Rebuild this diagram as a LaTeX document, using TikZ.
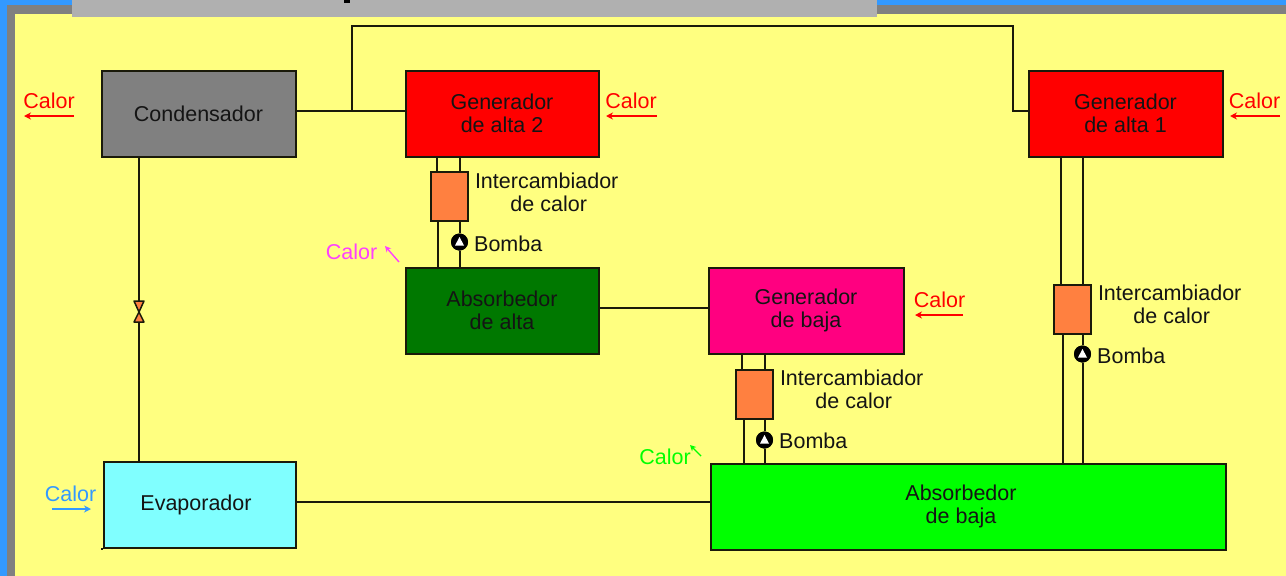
\documentclass[tikz,border=0pt]{standalone}
\usepackage{fontspec}
\setmainfont{Liberation Sans}
\usetikzlibrary{arrows.meta}
\definecolor{bgy}{HTML}{FFFF80}
\definecolor{frameblue}{HTML}{3399FF}
\definecolor{framegrey}{HTML}{808080}
\definecolor{barg}{HTML}{B0B0B0}
\definecolor{hxo}{HTML}{FF8040}
\definecolor{linek}{HTML}{1A1A0A}
\definecolor{pinkg}{HTML}{FF0080}
\definecolor{darkg}{HTML}{007800}
\definecolor{cyanb}{HTML}{80FFFF}
\definecolor{magc}{HTML}{FF40FF}
\tikzset{
  tx/.style={font=\fontsize{21.5}{23}\selectfont,inner sep=0pt,align=center,text=black!92},
  plant/.style={draw=linek,line width=2pt,inner sep=0pt,minimum height=86pt,tx},
  hxbox/.style={draw=linek,line width=2pt,fill=hxo,inner sep=0pt,minimum width=37pt,minimum height=49pt},
  pumpc/.style={circle,fill=black,inner sep=0pt,minimum size=17pt},
  pipe/.style={draw=linek,line width=2pt},
  heat/.style={line width=1.6pt,-{Stealth[length=7pt,width=7pt]}},
  heatlab/.style={font=\fontsize{21.5}{23}\selectfont,inner sep=0pt},
}
\begin{document}
\begin{tikzpicture}[x=1pt,y=-1pt]
\useasboundingbox (0,0) rectangle (1286,576);
% frame and page
\fill[frameblue] (0,0) rectangle (1286,576);
\fill[framegrey] (7,5) rectangle (1286,576);
\fill[bgy] (14.5,14) rectangle (1286,576);
\fill[barg] (72,0) rectangle (877,16.5);
\fill[black] (344,0) rectangle (350,3);

% plant boxes
\node[plant,minimum width=194pt,fill=framegrey] (cond) at (198.5,113.5) {Condensador};
\node[plant,minimum width=193pt,fill=red] (gen2) at (502,113.5) {Generador\\de alta 2};
\node[plant,minimum width=194pt,fill=red] (gen1) at (1125.5,113.5) {Generador\\de alta 1};
\node[plant,minimum width=193pt,fill=darkg] (absa) at (502,310.5) {Absorbedor\\de alta};
\node[plant,minimum width=195pt,fill=pinkg] (genb) at (806,310.5) {Generador\\de baja};
\node[plant,minimum width=192pt,fill=cyanb] (evap) at (199.5,504.5) {\hspace*{-7pt}Evaporador};
\node[plant,minimum width=515pt,fill=green] (absb) at (968,506.5) {\hspace*{-14pt}Absorbedor\\\hspace*{-14pt}de baja};

% heat exchangers
\node[hxbox] (hx2) at (449.5,196.5) {};
\node[hxbox] (hx1) at (1072.5,309.5) {};
\node[hxbox] (hxb) at (754,394.5) {};

% pumps
\node[pumpc] (p2) at (459.5,242) {};
\node[pumpc] (p1) at (1082.5,354) {};
\node[pumpc] (pb) at (764.5,440) {};
\foreach \p in {p2,p1,pb}{
  \fill[white] ([shift={(0pt,5pt)}]\p.center) -- ([shift={(-4.5pt,-3.5pt)}]\p.center) -- ([shift={(4.5pt,-3.5pt)}]\p.center) -- cycle;
}

% valve
\coordinate (valve) at (139,312);
\coordinate (jt) at (352,111);
\coordinate (tr) at (1013,26);
\coordinate (g1in) at ([yshift=2.5pt]gen1.west);

% pipes
\draw[pipe] ([yshift=2.5pt]cond.east) -- ([yshift=2.5pt]gen2.west);
\draw[pipe] (jt) |- (tr) -- (tr |- g1in) -- (g1in);
\draw[pipe] (cond.south -| valve) -- (valve) -- (valve |- evap.north);
\draw[pipe] (absa.east |- genb.west) ++(0,-2.5) -- ([yshift=2.5pt]genb.west);
\draw[pipe] ([yshift=2.5pt]evap.east) -- (absb.west |- {0,502});

\draw[pipe] ([xshift=-65pt]gen2.south) -- ([xshift=-12.5pt]hx2.north);
\draw[pipe] (gen2.south -| p2) -- (hx2.north -| p2);
\draw[pipe] ([xshift=-11.5pt]hx2.south) -- ([xshift=-64pt]absa.north);
\draw[pipe] (hx2.south -| p2) -- (p2) -- (p2 |- absa.north);

\draw[pipe] ([xshift=-64.5pt]gen1.south) -- ([xshift=-11.5pt]hx1.north);
\draw[pipe] (gen1.south -| p1) -- (hx1.north -| p1);
\draw[pipe] ([xshift=-9.5pt]hx1.south) -- ([xshift=95pt]absb.north);
\draw[pipe] (hx1.south -| p1) -- (p1) -- (p1 |- absb.north);

\draw[pipe] ([xshift=-64pt]genb.south) -- ([xshift=-12pt]hxb.north);
\draw[pipe] (genb.south -| pb) -- (hxb.north -| pb);
\draw[pipe] ([xshift=-10pt]hxb.south) -- ([xshift=-224pt]absb.north);
\draw[pipe] (hxb.south -| pb) -- (pb) -- (pb |- absb.north);

% redraw pumps over pipes, valve triangles
\foreach \p in {p2,p1,pb}{
  \fill[black] (\p) circle (8.5pt);
  \fill[white] ([shift={(0pt,5pt)}]\p.center) -- ([shift={(-4.5pt,-3.5pt)}]\p.center) -- ([shift={(4.5pt,-3.5pt)}]\p.center) -- cycle;
}
\draw[linek,fill=hxo,line width=1.5pt,line join=round] (valve) -- ([shift={(-5pt,11pt)}]valve) -- ([shift={(5pt,11pt)}]valve) -- cycle;
\draw[linek,fill=hxo,line width=1.5pt,line join=round] (valve) -- ([shift={(-5pt,-10pt)}]valve) -- ([shift={(5pt,-10pt)}]valve) -- cycle;
% notch at evaporator corner
\draw[pipe] (evap.south west) -- ([xshift=-2pt]evap.south west);

% labels
\node[tx,align=center] (ix2) at (546.7,192) {Intercambiador\\\hspace*{4pt}de calor};
\node[tx,align=center] (ix1) at (1169.7,304) {Intercambiador\\\hspace*{4pt}de calor};
\node[tx,align=center] (ixb) at (851.7,389) {Intercambiador\\\hspace*{4pt}de calor};
\node[tx,anchor=west] (b2) at (474,244) {Bomba};
\node[tx,anchor=west] (b1) at (1097,356) {Bomba};
\node[tx,anchor=west] (bb) at (779,441) {Bomba};

% heat labels and arrows
\node[heatlab,text=red] (c1) at (49,101) {Calor};
\coordinate (c1a) at (74,116); \coordinate (c1b) at (24,116);
\draw[heat,red] (c1a) -- (c1b);
\node[heatlab,text=red] (c2) at (631,101) {Calor};
\coordinate (c2a) at (657,116); \coordinate (c2b) at (606,116);
\draw[heat,red] (c2a) -- (c2b);
\node[heatlab,text=red] (c3) at (1254.5,101) {Calor};
\coordinate (c3a) at (1280,116); \coordinate (c3b) at (1230,116);
\draw[heat,red] (c3a) -- (c3b);
\node[heatlab,text=red] (c4) at (939.5,300) {Calor};
\coordinate (c4a) at (963,315); \coordinate (c4b) at (915,315);
\draw[heat,red] (c4a) -- (c4b);
\node[heatlab,text=magc] (c5) at (351.5,252) {Calor};
\coordinate (c5a) at (399,262); \coordinate (c5b) at (385,246);
\draw[line width=1.4pt,magc,-{Stealth[length=6pt,width=6pt]}] (c5a) -- (c5b);
\node[heatlab,text=green] (c6) at (665,457) {Calor};
\coordinate (c6a) at (701,456); \coordinate (c6b) at (690,445);
\draw[line width=1.4pt,green,-{Stealth[length=6pt,width=6pt]}] (c6a) -- (c6b);
\node[heatlab,text=frameblue] (c7) at (70.5,494) {Calor};
\coordinate (c7a) at (52,509); \coordinate (c7b) at (91,509);
\draw[heat,frameblue] (c7a) -- (c7b);
\end{tikzpicture}
\end{document}
